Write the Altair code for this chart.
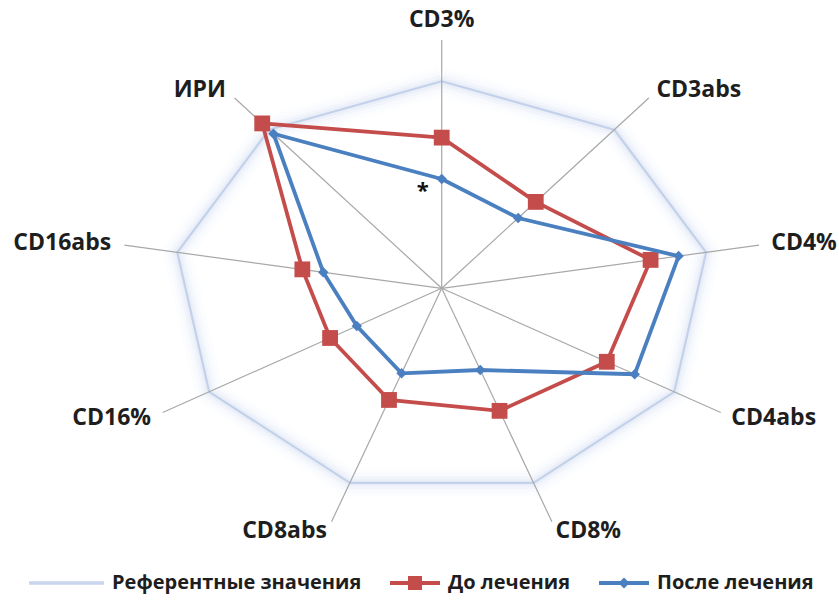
import altair as alt
import pandas as pd

# ---------------- data ----------------
categories = ["CD3%", "CD3abs", "CD4%", "CD4abs", "CD8%", "CD8abs", "CD16%", "CD16abs", "ИРИ"]
series_names = ["Референтные значения", "До лечения", "После лечения"]
reference = [1.0, 1.0, 1.0, 1.0, 1.0, 1.0, 1.0, 1.0, 1.0]
before = [0.728, 0.545, 0.79, 0.71, 0.63, 0.574, 0.48, 0.527, 1.04]
after = [0.528, 0.443, 0.896, 0.83, 0.42, 0.437, 0.365, 0.448, 0.975]
axis_max = 1.2
label_r = 1.25

RED = "#c44d4b"
BLUE = "#4a7fc0"
REF = "#a9bde2"
REF_LEG = "#c9d5ec"

rows = []
for s, vals in zip(series_names, [reference, before, after]):
    cats = categories + [categories[0]]
    vv = vals + [vals[0]]
    for i, (c, v) in enumerate(zip(cats, vv)):
        rows.append({"series": s, "category": c, "idx": i, "value": v})
df = pd.DataFrame(rows)

cat_df = pd.DataFrame({"category": categories, "idx": list(range(len(categories)))})
leg_df = pd.DataFrame({"series": series_names})

# ---------------- scales ----------------
xs = alt.Scale(domain=[-1.6451, 1.4797], nice=False, zero=False)
ys = alt.Scale(domain=[-1.5396, 1.3928], nice=False, zero=False)


def base(data):
    return alt.Chart(data).transform_calculate(
        ang="(90 - 40*datum.idx)*PI/180"
    )


def pts(data):
    return base(data).transform_calculate(
        px="datum.value*cos(datum.ang)", py="datum.value*sin(datum.ang)"
    )


X = alt.X("px:Q", scale=xs, axis=None)
Y = alt.Y("py:Q", scale=ys, axis=None)

# glow reference polygon
glow_layers = []
for w, op in [(28, 0.035), (20, 0.05), (13, 0.07), (7, 0.1), (2.2, 0.6)]:
    glow_layers.append(
        pts(df)
        .transform_filter(alt.datum.series == series_names[0])
        .mark_line(color=REF, strokeWidth=w, opacity=op, strokeJoin="round")
        .encode(x=X, y=Y, order="idx:Q")
    )

# spokes
spokes = (
    base(cat_df)
    .transform_calculate(px=f"{axis_max}*cos(datum.ang)", py=f"{axis_max}*sin(datum.ang)")
    .mark_rule(color="#a8a8a8", strokeWidth=1.2)
    .encode(x=X, y=Y, x2=alt.datum(0), y2=alt.datum(0))
)

red_line = (
    pts(df).transform_filter(alt.datum.series == series_names[1])
    .mark_line(color=RED, strokeWidth=3.8, strokeJoin="miter")
    .encode(x=X, y=Y, order="idx:Q")
)
red_pts = (
    pts(df).transform_filter((alt.datum.series == series_names[1]) & (alt.datum.idx < 9))
    .mark_point(shape="square", filled=True, size=250, color=RED, opacity=1)
    .encode(x=X, y=Y)
)
blue_line = (
    pts(df).transform_filter(alt.datum.series == series_names[2])
    .mark_line(color=BLUE, strokeWidth=3.8, strokeJoin="miter")
    .encode(x=X, y=Y, order="idx:Q")
)
blue_pts = (
    pts(df).transform_filter((alt.datum.series == series_names[2]) & (alt.datum.idx < 9))
    .mark_point(shape="diamond", filled=True, size=110, color=BLUE, opacity=1)
    .encode(x=X, y=Y)
)

asterisk = (
    pts(df).transform_filter((alt.datum.series == series_names[2]) & (alt.datum.idx == 0))
    .mark_text(text="*", dx=-19, dy=12, fontSize=22, fontWeight="bold", font="Open Sans", color="#111")
    .encode(x=X, y=Y)
)

# category labels
lab_base = base(cat_df).transform_calculate(
    px=f"{label_r}*cos(datum.ang)", py=f"{label_r}*sin(datum.ang)"
)
lab_style = dict(font="Open Sans", fontWeight="bold", fontSize=23, color="#1e1e1e")
lab_top = (
    lab_base.transform_filter(alt.datum.idx == 0)
    .mark_text(align="center", baseline="alphabetic", dy=-3, **lab_style)
    .encode(x=X, y=Y, text="category:N")
)
lab_left = (
    lab_base.transform_filter((alt.datum.idx >= 1) & (alt.datum.idx <= 4))
    .mark_text(align="left", baseline="middle", dx=-1, **lab_style)
    .encode(x=X, y=Y, text="category:N")
)
lab_right = (
    lab_base.transform_filter(alt.datum.idx >= 5)
    .mark_text(align="right", baseline="middle", **lab_style)
    .encode(x=X, y=Y, text="category:N")
)

# legend (symbols drawn by Vega's legend)
path_ref = "M-2,-0.07L1,-0.07L1,0.07L-2,0.07Z"
path_red = "M-1,-0.08L1,-0.08L1,0.08L-1,0.08Z M-0.28,-0.28L0.28,-0.28L0.28,0.28L-0.28,0.28Z"
path_blue = "M-1,-0.08L1,-0.08L1,0.08L-1,0.08Z M0,-0.22L0.22,0L0,0.22L-0.22,0Z"
leg_props = dict(
    title=None,
    orient="none",
    legendX=54,
    legendY=558,
    direction="horizontal",
    symbolSize=2500,
    symbolStrokeWidth=0,
    symbolOpacity=1,
    labelFont="Open Sans",
    labelFontWeight="bold",
    labelFontSize=20,
    labelColor="#1e1e1e",
    labelOffset=8,
    labelLimit=400,
    columnPadding=28,
    padding=0,
)
legend_layer = (
    alt.Chart(leg_df)
    .mark_point(filled=True, opacity=0)
    .encode(
        x=alt.X("z:Q", scale=xs, axis=None),
        y=alt.Y("z:Q", scale=ys, axis=None),
        color=alt.Color("series:N", scale=alt.Scale(domain=series_names, range=[REF_LEG, RED, BLUE]),
                        legend=alt.Legend(**leg_props)),
        shape=alt.Shape("series:N", scale=alt.Scale(domain=series_names, range=[path_ref, path_red, path_blue]),
                        legend=alt.Legend(**leg_props)),
    )
    .transform_calculate(z="0")
)

chart = (
    alt.layer(*glow_layers, spokes, red_line, red_pts, blue_line, blue_pts, asterisk,
              lab_top, lab_left, lab_right, legend_layer)
    .properties(width=839, height=607, autosize=alt.AutoSizeParams(type="none"), padding=0, background="white")
    .configure_view(stroke=None)
)

chart.save("out.html", embed_options={"renderer": "svg", "actions": False})
